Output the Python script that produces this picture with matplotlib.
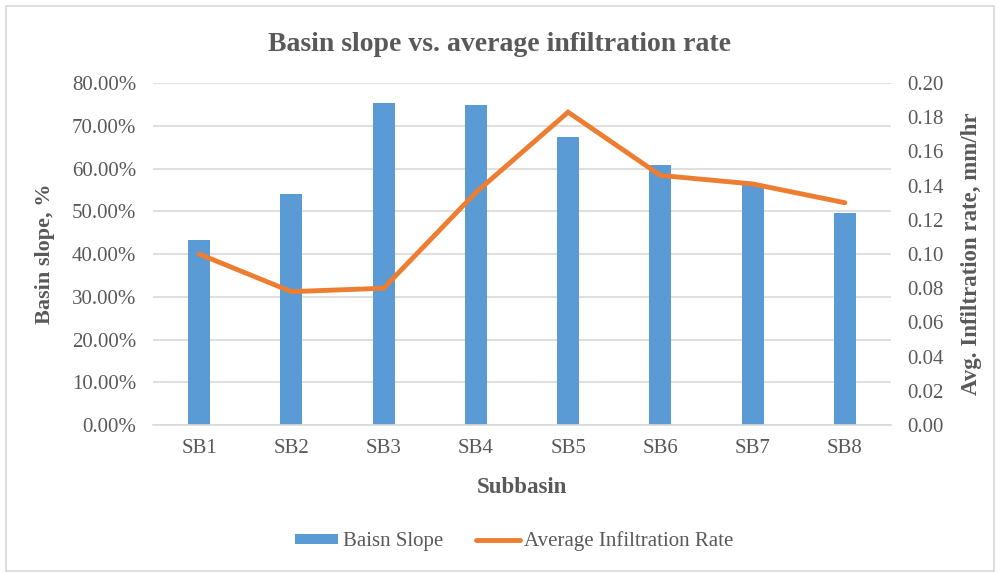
import numpy as np
import matplotlib.pyplot as plt
from matplotlib.ticker import FuncFormatter
from matplotlib.patches import Rectangle

plt.rcParams['font.family'] = ['Liberation Serif', 'DejaVu Serif']

# data
subbasins = ['SB1', 'SB2', 'SB3', 'SB4', 'SB5', 'SB6', 'SB7', 'SB8']
basin_slope = [43.3, 54.0, 75.3, 74.9, 67.4, 60.8, 56.1, 49.6]  # percent
infiltration = [0.100, 0.078, 0.080, 0.136, 0.183, 0.146, 0.141, 0.130]  # mm/hr

text_col = '#595959'
bar_col = '#5B9BD5'
line_col = '#ED7D31'
grid_col = '#D9D9D9'

fig = plt.figure(figsize=(10, 5.73), dpi=100)
ax = fig.add_axes([0.153, 0.2583, 0.738, 0.5967])
ax2 = ax.twinx()

x = np.arange(len(subbasins))
bars = ax.bar(x, basin_slope, width=0.24, color=bar_col, zorder=2, label='Baisn Slope')
line, = ax2.plot(x, infiltration, color=line_col, lw=3.5, solid_capstyle='round',
                 solid_joinstyle='miter', zorder=3, label='Average Infiltration Rate')

ax.set_xlim(-0.5, len(subbasins) - 0.5)
ax.set_ylim(0, 80)
ax.set_yticks(np.arange(0, 81, 10))
ax.yaxis.set_major_formatter(FuncFormatter(lambda v, p: f'{v:.2f}%'))
ax2.set_ylim(0, 0.2)
ax2.set_yticks(np.arange(0, 0.201, 0.02))
ax2.yaxis.set_major_formatter(FuncFormatter(lambda v, p: f'{v:.2f}'))

ax.set_xticks(x)
ax.set_xticklabels(subbasins)
ax.grid(axis='y', color=grid_col, lw=1.2, zorder=0)
ax.set_axisbelow(True)

for a in (ax, ax2):
    for s in a.spines.values():
        s.set_visible(False)
    a.tick_params(length=0, labelsize=15, colors=text_col, pad=12)
ax.tick_params(axis='x', pad=10)
ax2.tick_params(axis='y', pad=12)
ax.spines['bottom'].set_visible(True)
ax.spines['bottom'].set_color(grid_col)
ax.spines['bottom'].set_linewidth(1.2)
ax2.set_zorder(ax.get_zorder() + 1)
ax2.patch.set_visible(False)

ax.set_xlabel('Subbasin', fontsize=16.5, fontweight='bold', color=text_col, labelpad=14)
ax.set_ylabel('Basin slope, %', fontsize=16, fontweight='bold', color=text_col, labelpad=12)
ax2.set_ylabel('Avg. Infiltration rate, mm/hr', fontsize=16.5, fontweight='bold',
               color=text_col, labelpad=12)

fig.suptitle('Basin slope vs. average infiltration rate', y=0.945, fontsize=20,
             fontweight='bold', color=text_col)

fig.legend([bars, line], ['Baisn Slope', 'Average Infiltration Rate'], loc='center',
           bbox_to_anchor=(0.514, 0.055), ncol=2, frameon=False, fontsize=15,
           labelcolor=text_col, handlelength=2.1, handleheight=0.4, columnspacing=1.6,
           handletextpad=0.2)

# chart frame
fig.patches.append(Rectangle((0.006, 0.004), 0.988, 0.986, transform=fig.transFigure,
                             fill=False, edgecolor='#D9D9D9', lw=1.2))

fig.savefig('out.png', dpi=100, facecolor='white')
